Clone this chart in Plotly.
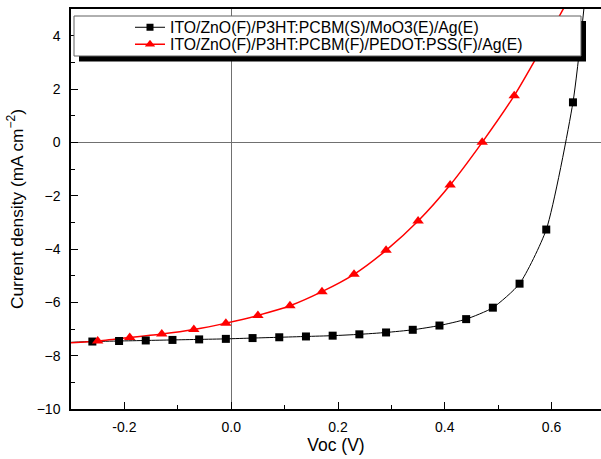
import plotly.graph_objects as go

# Black series: ITO/ZnO(F)/P3HT:PCBM(S)/MoO3(E)/Ag(E)
moo3_v = [-0.26, -0.21, -0.16, -0.11, -0.06, -0.01, 0.04, 0.09, 0.14, 0.19, 0.24,
          0.29, 0.34, 0.39, 0.44, 0.49, 0.54, 0.59, 0.64]
moo3_j = [-7.47, -7.45, -7.43, -7.41, -7.39, -7.37, -7.34, -7.31, -7.28, -7.25, -7.20,
          -7.13, -7.03, -6.87, -6.63, -6.20, -5.30, -3.27, 1.50]
# fitted curve ends (line only, no marker)
moo3_curve_start = (-0.30, -7.50)
moo3_curve_end = (0.662, 5.30)

# Red series: ITO/ZnO(F)/P3HT:PCBM(F)/PEDOT:PSS(F)/Ag(E)
pedot_v = [-0.25, -0.19, -0.13, -0.07, -0.01, 0.05, 0.11, 0.17, 0.23, 0.29, 0.35,
           0.41, 0.47, 0.53]
pedot_j = [-7.45, -7.32, -7.19, -7.02, -6.78, -6.49, -6.13, -5.60, -4.95, -4.05, -2.95,
           -1.60, 0.00, 1.75]
pedot_curve_start = (-0.30, -7.52)
pedot_curve_end = [(0.575, 3.30), (0.630, 5.30)]

names = ["ITO/ZnO(F)/P3HT:PCBM(S)/MoO3(E)/Ag(E)",
         "ITO/ZnO(F)/P3HT:PCBM(F)/PEDOT:PSS(F)/Ag(E)"]

x_ticks = [-0.2, 0.0, 0.2, 0.4, 0.6]
x_minor = [-0.1, 0.1, 0.3, 0.5]
y_ticks = [-10, -8, -6, -4, -2, 0, 2, 4]
y_minor = [-9, -7, -5, -3, -1, 1, 3]

W, H = 601, 459
L, T, B, R = 71, 9, 50, 0

def px(xp):
    return (xp - L) / (W - L - R)

def py(yp):
    return 1 - (yp - T) / (H - T - B)

fig = go.Figure()

# curves
bx = [moo3_curve_start[0]] + moo3_v + [moo3_curve_end[0]]
by = [moo3_curve_start[1]] + moo3_j + [moo3_curve_end[1]]
rx = [pedot_curve_start[0]] + pedot_v + [p[0] for p in pedot_curve_end]
ry = [pedot_curve_start[1]] + pedot_j + [p[1] for p in pedot_curve_end]

fig.add_trace(go.Scatter(x=bx, y=by, mode="lines", showlegend=False, hoverinfo="skip",
                         line=dict(color="black", width=1, shape="spline", smoothing=0.6)))
fig.add_trace(go.Scatter(x=rx, y=ry, mode="lines", showlegend=False, hoverinfo="skip",
                         line=dict(color="red", width=1.5, shape="spline", smoothing=0.6)))
fig.add_trace(go.Scatter(x=moo3_v, y=moo3_j, mode="markers", showlegend=False,
                         marker=dict(symbol="square", color="black", size=8, opacity=1,
                                     line=dict(width=0))))
fig.add_trace(go.Scatter(x=pedot_v, y=pedot_j, mode="markers", showlegend=False,
                         marker=dict(symbol="triangle-up", color="red", size=10, opacity=1,
                                     line=dict(width=0))))
# legend entries
fig.add_trace(go.Scatter(x=[None], y=[None], mode="lines+markers", name=names[0], legend="legend",
                         line=dict(color="black", width=1),
                         marker=dict(symbol="square", color="black", size=7)))
fig.add_trace(go.Scatter(x=[None], y=[None], mode="lines+markers", name=names[1], legend="legend2",
                         line=dict(color="red", width=1.5),
                         marker=dict(symbol="triangle-up", color="red", size=9)))

leg_font = dict(family="Liberation Sans, Arial, sans-serif", size=15.8, color="black")
axis_font = dict(family="Liberation Sans, Arial, sans-serif", size=14, color="black")

fig.update_layout(
    width=W, height=H,
    margin=dict(l=L, r=R, t=T, b=B),
    paper_bgcolor="white", plot_bgcolor="white",
    font=axis_font,
    showlegend=True,
    legend=dict(x=px(130), y=py(10.5), xanchor="left", yanchor="top",
                bgcolor="rgba(0,0,0,0)", borderwidth=0, font=leg_font),
    legend2=dict(x=px(130), y=py(27.5), xanchor="left", yanchor="top",
                 bgcolor="rgba(0,0,0,0)", borderwidth=0, font=leg_font),
    xaxis=dict(
        range=[-0.3, 0.6925], tickvals=x_ticks, ticktext=[f"{v:.1f}" for v in x_ticks],
        ticks="inside", ticklen=7, tickcolor="black", tickwidth=1,
        ticklabelstandoff=4,
        minor=dict(tickvals=x_minor, ticks="inside", ticklen=4, tickcolor="black"),
        showline=True, linecolor="black", linewidth=1.5, mirror=True,
        showgrid=False, zeroline=True, zerolinecolor="#707070", zerolinewidth=1,
        title=dict(text="Voc (V)", font=dict(size=17.5), standoff=5),
    ),
    yaxis=dict(
        range=[-10, 5], tickvals=y_ticks,
        ticks="inside", ticklen=7, tickcolor="black", tickwidth=1,
        ticklabelstandoff=6,
        minor=dict(tickvals=y_minor, ticks="inside", ticklen=4, tickcolor="black"),
        showline=True, linecolor="black", linewidth=1.5, mirror=False,
        showgrid=False, zeroline=True, zerolinecolor="#707070", zerolinewidth=1,
        title=dict(text="Current density (mA cm<sup>−2</sup>)", font=dict(size=17.3), standoff=9),
    ),
    shapes=[
        dict(type="rect", xref="paper", yref="paper", layer="above",
             x0=px(79), x1=px(586), y0=py(61.5), y1=py(21),
             fillcolor="black", line=dict(color="black", width=0)),
        dict(type="rect", xref="paper", yref="paper", layer="above",
             x0=px(74), x1=px(581), y0=py(56), y1=py(16),
             fillcolor="white", line=dict(color="#606060", width=1)),
    ],
)

fig.write_html("out.html")
